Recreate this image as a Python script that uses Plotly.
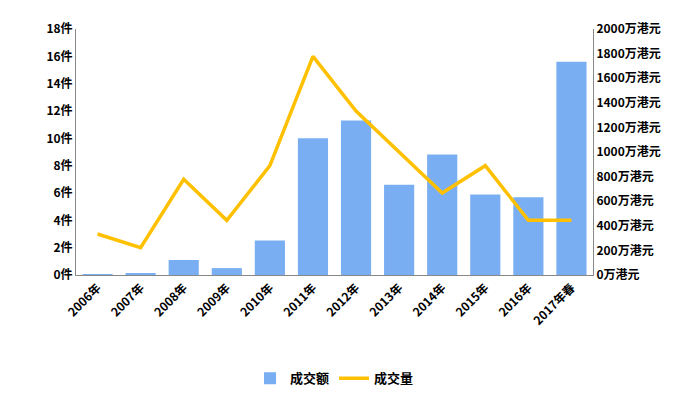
import plotly.graph_objects as go

years = ["2006年","2007年","2008年","2009年","2010年","2011年","2012年","2013年","2014年","2015年","2016年","2017年春"]
amount = [3, 12, 122, 56, 280, 1112, 1256, 733, 980, 655, 633, 1733]  # 万港元
volume = [3, 2, 7, 4, 8, 16, 12, 9, 6, 8, 4, 4]  # 件
left_ticks = list(range(0, 19, 2))
right_ticks = list(range(0, 2001, 200))

tf = dict(size=12, family="Noto Sans CJK SC", weight="bold")
fig = go.Figure()
fig.add_trace(go.Bar(x=years, y=amount, name="成交额", yaxis="y",
                     marker=dict(color="#7aaef2", line=dict(width=0)), width=0.7))
fig.add_trace(go.Scatter(x=years, y=volume, name="成交量", mode="lines", yaxis="y2",
                         line=dict(color="#FFC000", width=3.5)))
fig.update_layout(
    width=696, height=419, paper_bgcolor="white", plot_bgcolor="white",
    margin=dict(l=68, r=111, t=21, b=152),
    font=dict(family="Noto Sans CJK SC", size=12, color="black"),
    xaxis=dict(tickangle=-45, showline=True, linecolor="#888", tickfont=tf),
    yaxis2=dict(range=[0, 18], tickvals=left_ticks, ticktext=[f"{v}件" for v in left_ticks],
               side="left", overlaying="y", showline=True, linecolor="#888", showgrid=False, zeroline=False,
               tickfont=tf),
    yaxis=dict(range=[0, 2000], tickvals=right_ticks, ticktext=[f"{v}万港元" for v in right_ticks],
                side="right", showline=True, linecolor="#888",
                showgrid=False, zeroline=False, tickfont=tf),
    legend=dict(orientation="h", x=0.5, xanchor="center", y=-0.42, yanchor="middle",
                font=dict(size=13, weight="bold")),
    showlegend=True, bargap=0.3,
)
fig.write_html("out.html")
